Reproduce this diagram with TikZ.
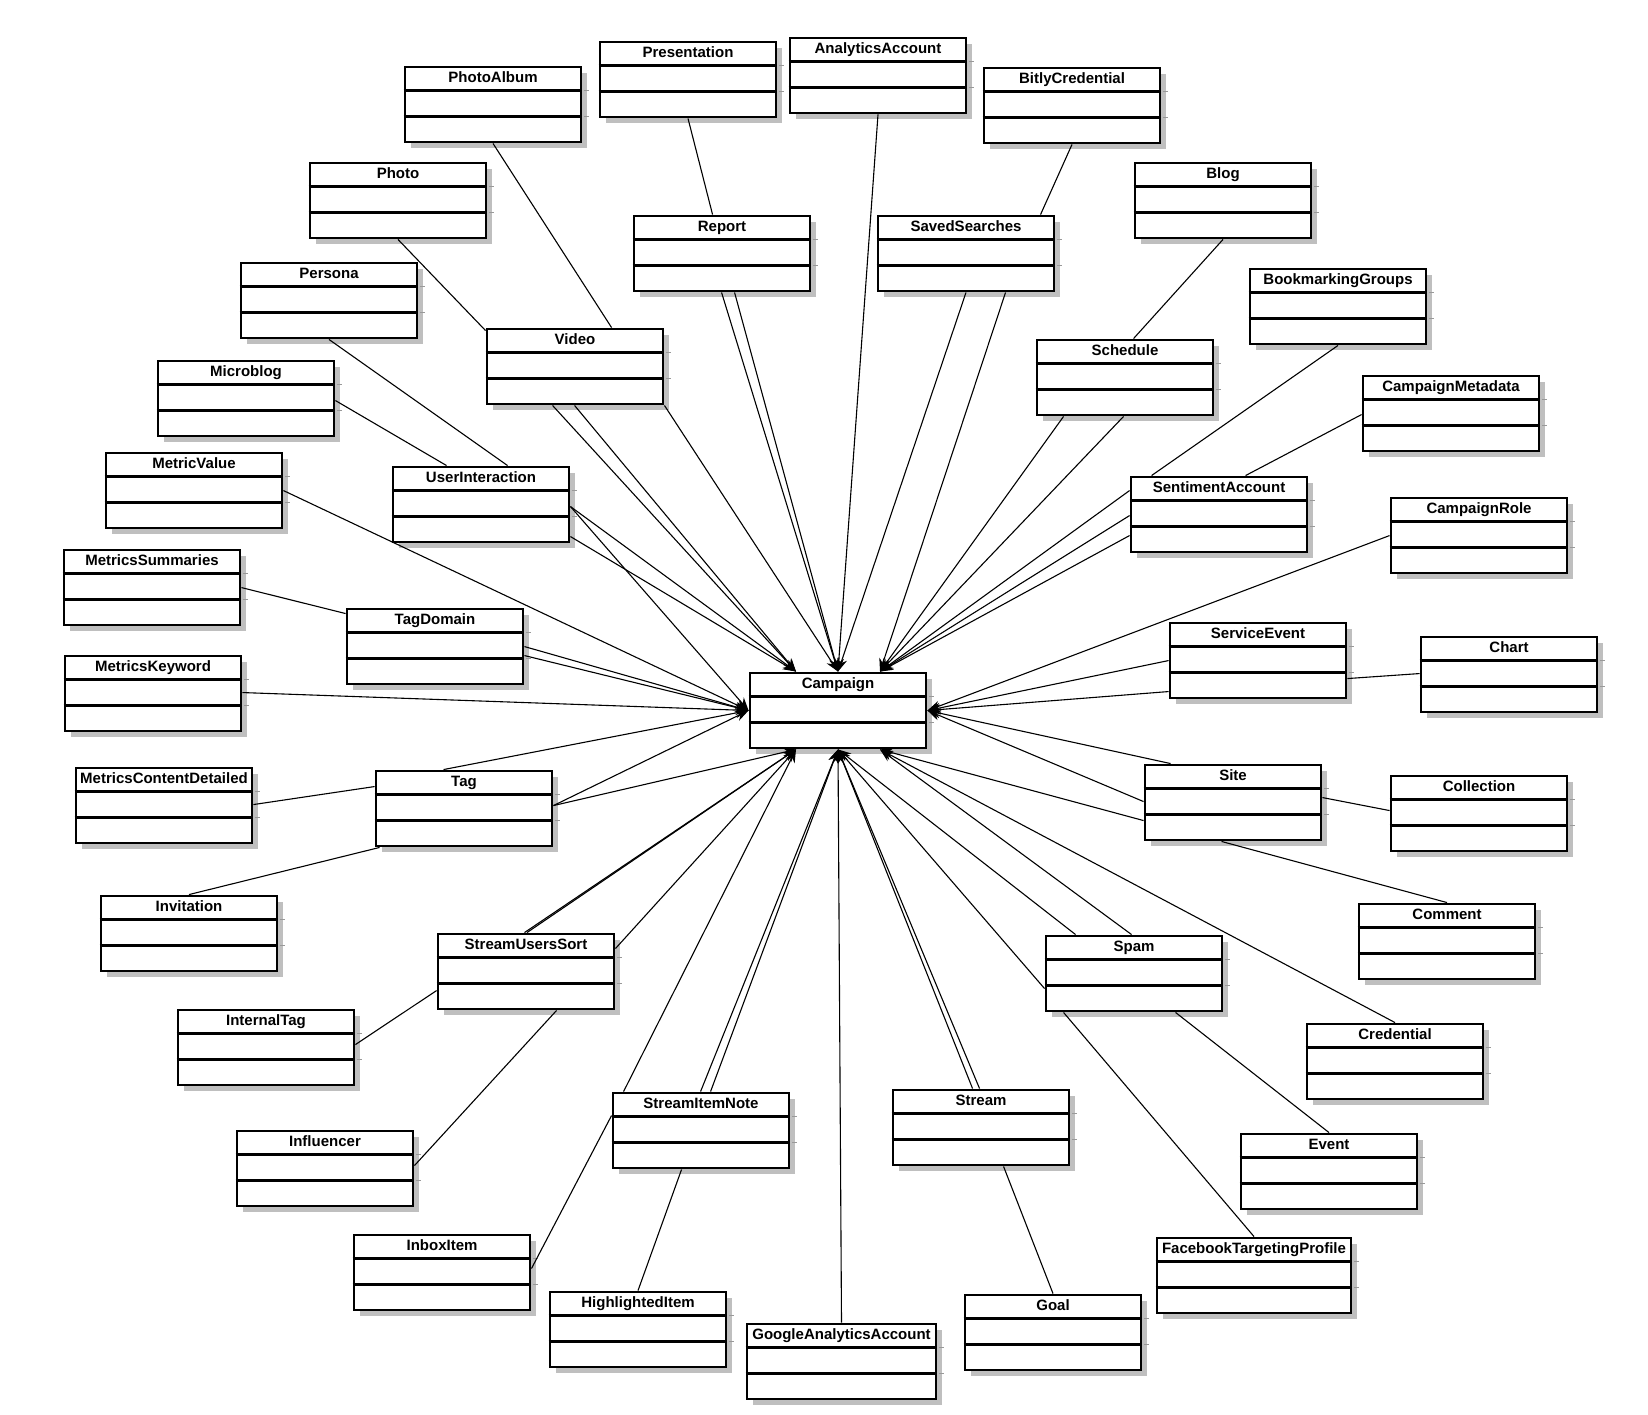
\documentclass[tikz,border=0pt]{standalone}
\usepackage{fontspec}
\setmainfont{Liberation Sans}
\usetikzlibrary{shadows,calc,arrows.meta}

\tikzset{
  umlclass/.style={draw, line width=2.9pt, fill=white,
    minimum width=176pt, inner xsep=2pt, inner ysep=0pt,
    text height=15.5pt, text depth=59.5pt,
    font=\fontsize{15pt}{18pt}\selectfont\bfseries,
    drop shadow={shadow xshift=6pt, shadow yshift=-6pt, fill=black!25, opacity=1}},
  sepline/.style={line width=2.9pt},
  septick/.style={line width=0.8pt, black!40},
  link/.style={line width=1.1pt},
  assoc/.style={line width=1.1pt, -{Stealth[length=13pt, width=10pt]}}
}

\begin{document}
\begin{tikzpicture}[x=1pt, y=-1pt]
\useasboundingbox (0,0) rectangle (1648,1414);

% classes
\node[umlclass] (PhotoAlbum)       at (493,104.5)  {PhotoAlbum};
\node[umlclass] (Presentation)     at (688,79.5)   {Presentation};
\node[umlclass] (AnalyticsAccount) at (878,75.5)   {AnalyticsAccount};
\node[umlclass] (BitlyCredential)  at (1072,105.5) {BitlyCredential};
\node[umlclass] (Photo)            at (398,200.5)  {Photo};
\node[umlclass] (Report)           at (722,253.5)  {Report};
\node[umlclass] (SavedSearches)    at (966,253.5)  {SavedSearches};
\node[umlclass] (Blog)             at (1223,200.5) {Blog};
\node[umlclass] (Persona)          at (329,300.5)  {Persona};
\node[umlclass] (Video)            at (575,366.5)  {Video};
\node[umlclass] (Schedule)         at (1125,377.5) {Schedule};
\node[umlclass] (BookmarkingGroups) at (1338,306.5) {BookmarkingGroups};
\node[umlclass] (Microblog)        at (246,398.5)  {Microblog};
\node[umlclass] (CampaignMetadata) at (1451,413.5) {CampaignMetadata};
\node[umlclass] (MetricValue)      at (194,490.5)  {MetricValue};
\node[umlclass] (UserInteraction)  at (481,504.5)  {UserInteraction};
\node[umlclass] (SentimentAccount) at (1219,514.5) {SentimentAccount};
\node[umlclass] (CampaignRole)     at (1479,535.5) {CampaignRole};
\node[umlclass] (MetricsSummaries) at (152,587.5)  {MetricsSummaries};
\node[umlclass] (TagDomain)        at (435,646.5)  {TagDomain};
\node[umlclass] (ServiceEvent)     at (1258,660.5) {ServiceEvent};
\node[umlclass] (Chart)            at (1509,674.5) {Chart};
\node[umlclass] (MetricsKeyword)   at (153,693.5)  {MetricsKeyword};
\node[umlclass] (Campaign)         at (838,710.5)  {Campaign};
\node[umlclass] (MetricsContentDetailed) at (164,805.5) {MetricsContentDetailed};
\node[umlclass] (Tag)              at (464,808.5)  {Tag};
\node[umlclass] (Site)             at (1233,802.5) {Site};
\node[umlclass] (Collection)       at (1479,813.5) {Collection};
\node[umlclass] (Invitation)       at (189,933.5)  {Invitation};
\node[umlclass] (Comment)          at (1447,941.5) {Comment};
\node[umlclass] (StreamUsersSort)  at (526,971.5)  {StreamUsersSort};
\node[umlclass] (Spam)             at (1134,973.5) {Spam};
\node[umlclass] (InternalTag)      at (266,1047.5) {InternalTag};
\node[umlclass] (Credential)       at (1395,1061.5) {Credential};
\node[umlclass] (StreamItemNote)   at (701,1130.5) {StreamItemNote};
\node[umlclass] (Stream)           at (981,1127.5) {Stream};
\node[umlclass] (Influencer)       at (325,1168.5) {Influencer};
\node[umlclass] (Event)            at (1329,1171.5) {Event};
\node[umlclass] (InboxItem)        at (442,1272.5) {InboxItem};
\node[umlclass, minimum width=194pt] (FacebookTargetingProfile) at (1254,1275.5) {FacebookTargetingProfile};
\node[umlclass] (HighlightedItem)  at (638,1329.5) {HighlightedItem};
\node[umlclass] (Goal)             at (1053,1332.5) {Goal};
\node[umlclass, minimum width=189pt] (GoogleAnalyticsAccount) at (841.5,1361.5) {GoogleAnalyticsAccount};

% compartment separators
\foreach \n in {PhotoAlbum,Presentation,AnalyticsAccount,BitlyCredential,Photo,
  Report,SavedSearches,Blog,Persona,Video,Schedule,BookmarkingGroups,Microblog,
  CampaignMetadata,MetricValue,UserInteraction,SentimentAccount,CampaignRole,
  MetricsSummaries,TagDomain,ServiceEvent,Chart,MetricsKeyword,Campaign,
  MetricsContentDetailed,Tag,Site,Collection,Invitation,Comment,StreamUsersSort,
  Spam,InternalTag,Credential,StreamItemNote,Stream,Influencer,Event,InboxItem,
  FacebookTargetingProfile,HighlightedItem,Goal,GoogleAnalyticsAccount}{
  \draw[sepline] ([yshift=-25pt]\n.north west) -- ([yshift=-25pt]\n.north east);
  \draw[sepline] ([yshift=-50.5pt]\n.north west) -- ([yshift=-50.5pt]\n.north east);
  \draw[septick] ([yshift=-25pt,xshift=1.4pt]\n.north east) -- ++(5.5,0);
  \draw[septick] ([yshift=-50.5pt,xshift=1.4pt]\n.north east) -- ++(5.5,0);
}

% plain associations
\draw[link] (PhotoAlbum.south) -- ($(Video.north west)+(126,0)$);
\draw[link] (Photo.south) -- ($(Video.north west)+(0,3)$);
\draw[link] (Presentation.south) -- ($(Report.north west)+(80,0)$);
\draw[link] (BitlyCredential.south) -- ($(SavedSearches.north west)+(164,0)$);
\draw[link] (Blog.south) -- ($(Schedule.north west)+(98,0)$);
\draw[link] (BookmarkingGroups.south) -- ($(SentimentAccount.north west)+(22,0)$);
\draw[link] ($(CampaignMetadata.north west)+(0,40)$) -- ($(SentimentAccount.north west)+(116,0)$);
\draw[link] (Persona.south) -- ($(UserInteraction.north west)+(116,0)$);
\draw[link] ($(Microblog.north east)+(0,41)$) -- ($(UserInteraction.north west)+(55,0)$);
\draw[link] ($(MetricsSummaries.north east)+(0,39)$) -- ($(TagDomain.north west)+(0,6)$);
\draw[link] ($(MetricsContentDetailed.north east)+(0,38)$) -- ($(Tag.north west)+(0,17)$);
\draw[link] ($(Tag.south west)+(5,0)$) -- (Invitation.north);
\draw[link] ($(StreamUsersSort.north west)+(0,58)$) -- ($(InternalTag.north east)+(0,36)$);
\draw[link] ($(StreamUsersSort.south west)+(120,0)$) -- ($(Influencer.north east)+(0,36)$);
\draw[link] ($(InboxItem.north east)+(0,35)$) -- ($(StreamItemNote.north west)+(0,24)$);
\draw[link] ($(StreamItemNote.south west)+(70,0)$) -- (HighlightedItem.north);
\draw[link] ($(Stream.south west)+(112,0)$) -- (Goal.north);
\draw[link] ($(Spam.south west)+(19,0)$) -- (FacebookTargetingProfile.north);
\draw[link] ($(Spam.south west)+(131,0)$) -- (Event.north);
\draw[link] ($(Site.south west)+(78,0)$) -- (Comment.north);
\draw[link] ($(Site.north east)+(0,34)$) -- ($(Collection.north west)+(0,36)$);
\draw[link] ($(ServiceEvent.north east)+(0,57)$) -- ($(Chart.north west)+(0,38)$);

% directed associations into Campaign
% top side
\draw[assoc] ($(Video.south west)+(67,0)$) -- ($(Campaign.north)+(-42,0)$);
\draw[assoc] ($(Video.south west)+(89,0)$) -- ($(Campaign.north)+(-42,0)$);
\draw[assoc] ($(UserInteraction.north east)+(0,41)$) -- ($(Campaign.north)+(-42,0)$);
\draw[assoc] ($(UserInteraction.north east)+(0,71)$) -- ($(Campaign.north)+(-42,0)$);
\draw[assoc] (Video.south east) -- (Campaign.north);
\draw[assoc] ($(Report.south west)+(89,0)$) -- (Campaign.north);
\draw[assoc] ($(Report.south west)+(102,0)$) -- (Campaign.north);
\draw[assoc] (AnalyticsAccount.south) -- (Campaign.north);
\draw[assoc] (SavedSearches.south) -- (Campaign.north);
\draw[assoc] ($(SavedSearches.south west)+(129,0)$) -- ($(Campaign.north)+(42,0)$);
\draw[assoc] ($(Schedule.south west)+(28,0)$) -- ($(Campaign.north)+(42,0)$);
\draw[assoc] ($(Schedule.south west)+(88,0)$) -- ($(Campaign.north)+(42,0)$);
\draw[assoc] ($(SentimentAccount.north west)+(0,15)$) -- ($(Campaign.north)+(42,0)$);
\draw[assoc] ($(SentimentAccount.north west)+(0,40)$) -- ($(Campaign.north)+(42,0)$);
\draw[assoc] ($(SentimentAccount.north west)+(0,60)$) -- ($(Campaign.north)+(42,0)$);
% left side
\draw[assoc] ($(UserInteraction.north east)+(0,41)$) -- (Campaign.west);
\draw[assoc] ($(MetricValue.north east)+(0,39)$) -- (Campaign.west);
\draw[assoc] ($(TagDomain.north east)+(0,39)$) -- (Campaign.west);
\draw[assoc] ($(TagDomain.north east)+(0,48)$) -- (Campaign.west);
\draw[assoc] ($(MetricsKeyword.north east)+(0,38)$) -- (Campaign.west);
\draw[assoc] ($(Tag.north west)+(69,0)$) -- (Campaign.west);
\draw[assoc] ($(Tag.north east)+(0,36)$) -- (Campaign.west);
% right side
\draw[assoc] ($(CampaignRole.north west)+(0,39)$) -- (Campaign.east);
\draw[assoc] ($(ServiceEvent.north west)+(0,39)$) -- (Campaign.east);
\draw[assoc] ($(ServiceEvent.north west)+(0,70)$) -- (Campaign.east);
\draw[assoc] ($(Site.north west)+(27,0)$) -- (Campaign.east);
\draw[assoc] ($(Site.north west)+(0,38)$) -- (Campaign.east);
% bottom side
\draw[assoc] ($(Tag.north east)+(0,36)$) -- ($(Campaign.south)+(-42,0)$);
\draw[assoc] ($(StreamUsersSort.north)+(-1.5,0)$) -- ($(Campaign.south)+(-42,0)$);
\draw[assoc] ($(StreamUsersSort.north)+(1,0)$) -- ($(Campaign.south)+(-42,0)$);
\draw[assoc] ($(StreamUsersSort.north east)+(0,16)$) -- ($(Campaign.south)+(-42,0)$);
\draw[assoc] ($(StreamItemNote.north west)+(12,0)$) -- ($(Campaign.south)+(-42,0)$);
\draw[assoc] ($(StreamItemNote.north west)+(89,0)$) -- (Campaign.south);
\draw[assoc] ($(StreamItemNote.north west)+(99,0)$) -- (Campaign.south);
\draw[assoc] (GoogleAnalyticsAccount.north) -- (Campaign.south);
\draw[assoc] ($(Stream.north west)+(81,0)$) -- (Campaign.south);
\draw[assoc] ($(Stream.north west)+(88,0)$) -- (Campaign.south);
\draw[assoc] ($(Spam.north west)+(0,54)$) -- (Campaign.south);
\draw[assoc] ($(Spam.north west)+(31,0)$) -- (Campaign.south);
\draw[assoc] ($(Spam.north west)+(87,0)$) -- ($(Campaign.south)+(42,0)$);
\draw[assoc] (Credential.north) -- ($(Campaign.south)+(42,0)$);
\draw[assoc] ($(Site.north west)+(0,57)$) -- ($(Campaign.south)+(42,0)$);
\end{tikzpicture}
\end{document}
